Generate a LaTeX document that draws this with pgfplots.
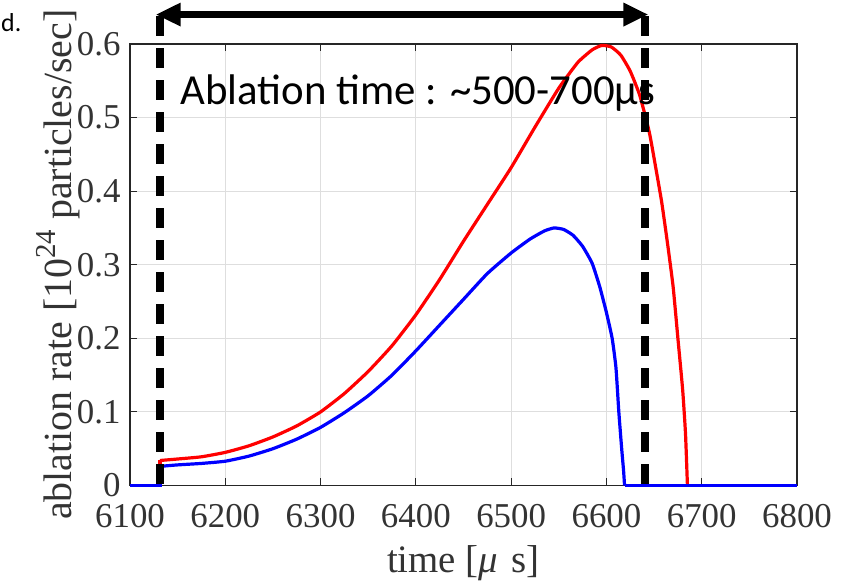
\documentclass[border=0pt]{standalone}
\usepackage{pgfplots}
\pgfplotsset{compat=1.18}
\usepackage{fontspec}
\setmainfont{Liberation Serif}
\newfontfamily\calfont{Carlito}
\usetikzlibrary{arrows.meta}
\definecolor{gridgray}{RGB}{222,222,222}
\begin{document}
\begin{tikzpicture}[x=1bp,y=1bp]
\useasboundingbox (0,0) rectangle (844,581);
\node[anchor=base west, inner sep=0pt, font=\calfont\fontsize{26}{30}\selectfont] at (1,549) {d.};
\begin{axis}[
  at={(130bp,95.5bp)}, anchor=south west,
  scale only axis, width=667bp, height=441.5bp,
  xmin=6100, xmax=6800, ymin=0, ymax=0.6,
  xtick={6100,6200,...,6800},
  ytick={0,0.1,...,0.6},
  clip=false,
  axis line style={line width=1.1bp, black!85},
  tick style={line width=0.9bp, black!85},
  major tick length=7bp,
  tick align=inside, xtick pos=both, ytick pos=both,
  grid=major,
  major grid style={line width=0.9bp, gridgray},
  /pgf/number format/assume math mode=true,
  /pgf/number format/set thousands separator={},
  yticklabel style={/pgf/number format/fixed, /pgf/number format/precision=1, anchor=east, xshift=-6bp},
  ticklabel style={font=\fontsize{35}{40}\selectfont, text=black!80},
  xticklabel style={anchor=base, yshift=-42bp},
  xlabel={time [\textit{μ}\hspace{0.35em}s]},
  xlabel style={font=\fontsize{39}{44}\selectfont, text=black!80, at={(axis description cs:0.5,-0.198)}, anchor=base},
  ylabel={ablation rate [10\raisebox{0.42em}{\fontsize{29}{30}\selectfont 24}\hspace{0.25em}particles/sec]},
  ylabel style={font=\fontsize{40}{44}\selectfont, text=black!80, at={(axis description cs:-0.087,0.5)}, anchor=base},
]
% red series
\addplot[red, line width=3.2bp] coordinates {(6131.5,0) (6131.5,0.034)};
\addplot[red, line width=3.2bp, smooth, tension=0.3] coordinates {
(6131.5,0.034) (6150,0.036) (6175,0.039) (6200,0.045) (6225,0.054)
(6250,0.066) (6275,0.081) (6300,0.100) (6325,0.125) (6350,0.155) (6375,0.190)
(6400,0.232) (6425,0.280) (6450,0.332) (6475,0.382) (6500,0.432) (6525,0.487)
(6550,0.540) (6570,0.575) (6585,0.592) (6595,0.598) (6605,0.596) (6615,0.585)
(6625,0.563) (6635,0.530) (6645,0.480) (6652,0.430) (6658,0.385) (6664,0.330)
(6670,0.270) (6675,0.200) (6680,0.130) (6683,0.070) (6685,0)
};
\addplot[red, line width=3.2bp] coordinates {(6685,0) (6800,0)};
% blue series
\addplot[blue, line width=3.2bp] coordinates {(6100,0) (6131.5,0) (6131.5,0.026)};
\addplot[blue, line width=3.2bp, smooth, tension=0.3] coordinates {
(6131.5,0.026) (6150,0.028) (6175,0.030) (6200,0.033)
(6225,0.040) (6250,0.050) (6275,0.063) (6300,0.079) (6325,0.099) (6350,0.122)
(6375,0.150) (6400,0.183) (6425,0.218) (6450,0.253) (6475,0.288) (6500,0.316)
(6520,0.335) (6535,0.346) (6545,0.350) (6555,0.348) (6565,0.340) (6575,0.325)
(6585,0.302) (6593,0.270) (6600,0.235) (6606,0.200) (6610,0.160) (6613,0.100)
(6616,0.050) (6618,0.020) (6619,0)
};
\addplot[blue, line width=3.2bp] coordinates {(6619,0) (6800,0)};
\draw[black, line width=8bp, dash pattern=on 20bp off 12bp]
  (axis cs:6131.5,0.6375) -- (axis cs:6131.5,0);
\draw[black, line width=8bp, dash pattern=on 20bp off 12bp]
  (axis cs:6640,0.6375) -- (axis cs:6640,0);
\draw[black, line width=6.5bp, {Triangle[length=25bp,width=22bp]}-{Triangle[length=25bp,width=22bp]}]
  (axis cs:6127,0.640) -- (axis cs:6644,0.640);
\node[anchor=base west, inner sep=0pt, font=\calfont\fontsize{43}{48}\selectfont]
  at (axis cs:6153,0.5177) {Ablation time : \textasciitilde 500-700μs};
\end{axis}
\end{tikzpicture}
\end{document}
